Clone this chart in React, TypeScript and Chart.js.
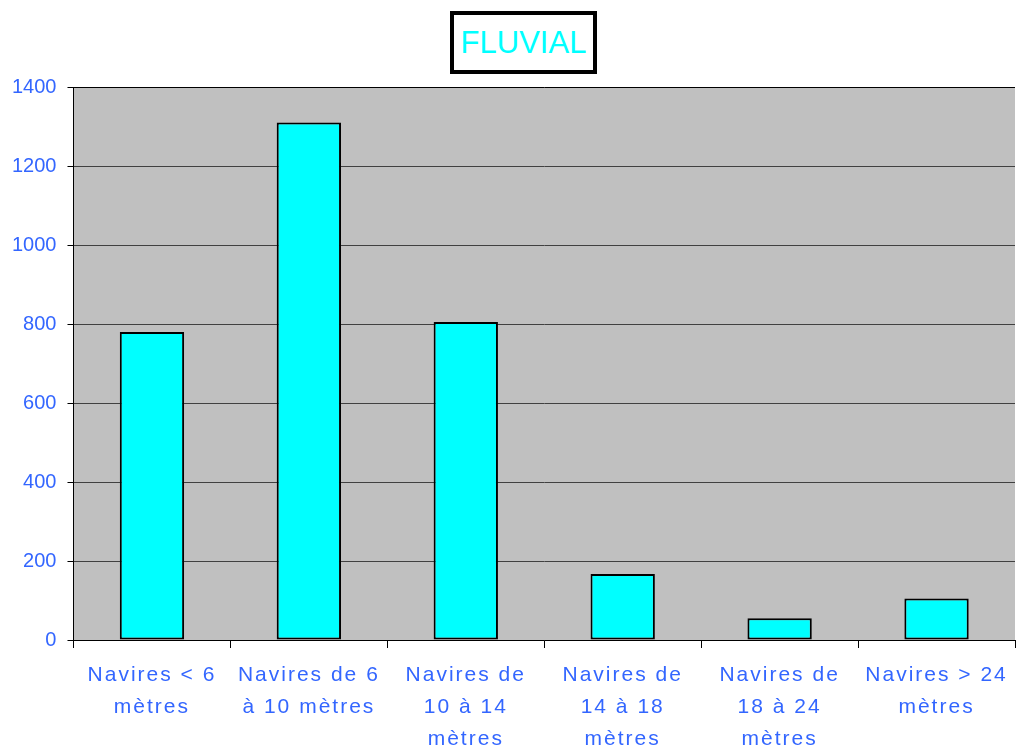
import React, { useEffect, useRef } from 'react';
import { Chart, registerables } from 'chart.js';

Chart.register(...registerables);

const chartTitle = 'FLUVIAL';
const categories: string[][] = [
  ['Navires < 6', 'mètres'],
  ['Navires de 6', 'à 10 mètres'],
  ['Navires de', '10 à 14', 'mètres'],
  ['Navires de', '14 à 18', 'mètres'],
  ['Navires de', '18 à 24', 'mètres'],
  ['Navires > 24', 'mètres'],
];
const values: number[] = [780, 1310, 805, 167, 55, 105];
const yMin = 0;
const yMax = 1400;
const yStep = 200;

const FONT = '"Liberation Sans", Arial, sans-serif';
const BLUE = '#3366FF';
const CYAN = '#00FFFF';

const plotBg = {
  id: 'plotBg',
  beforeDraw(chart: any) {
    const { ctx, chartArea } = chart;
    ctx.save();
    ctx.fillStyle = '#C0C0C0';
    ctx.fillRect(chartArea.left, chartArea.top, chartArea.right - chartArea.left, chartArea.bottom - chartArea.top);
    ctx.restore();
  },
};

const xLetterSpacing = {
  id: 'xLetterSpacing',
  afterLayout(chart: any) {
    const s: any = chart.scales.x;
    if (s && !s.__ls) {
      const orig = s.drawLabels;
      s.drawLabels = function (area: any) {
        const ctx = this.ctx;
        ctx.save();
        ctx.letterSpacing = '2px';
        orig.call(this, area);
        ctx.restore();
      };
      s.__ls = true;
    }
  },
};

export default function App() {
  const ref = useRef<HTMLCanvasElement | null>(null);

  useEffect(() => {
    if (!ref.current) return;
    const chart = new Chart(ref.current, {
      type: 'bar',
      data: {
        labels: categories,
        datasets: [
          {
            data: values,
            backgroundColor: CYAN,
            borderColor: '#000000',
            borderWidth: 2,
            borderSkipped: false,
            barPercentage: 0.41,
            categoryPercentage: 1,
          },
        ],
      },
      options: {
        responsive: false,
        animation: false,
        layout: { padding: { left: 1, right: 2, top: 87, bottom: 6 } },
        plugins: {
          legend: { display: false },
          tooltip: { enabled: false },
          title: { display: false },
        },
        scales: {
          x: {
            offset: true,
            grid: {
              offset: true,
              drawOnChartArea: false,
              drawTicks: true,
              tickLength: 8,
              tickColor: '#000000',
              color: '#000000',
            },
            border: { color: '#000000', width: 1 },
            ticks: {
              color: BLUE,
              padding: 11,
              maxRotation: 0,
              autoSkip: false,
              font: { family: FONT, size: 21, lineHeight: '32px' } as any,
            },
          },
          y: {
            min: yMin,
            max: yMax,
            grid: {
              color: (c: any) => (c.tick && c.tick.value === yMax ? '#000000' : '#404040'),
              lineWidth: 1,
              drawTicks: true,
              tickLength: 6,
              tickColor: '#000000',
            },
            border: { color: '#000000', width: 1 },
            ticks: {
              stepSize: yStep,
              color: BLUE,
              padding: 11,
              font: { family: FONT, size: 20 },
              callback: (v: any) => String(v),
            },
          },
        },
      },
      plugins: [plotBg, xLetterSpacing],
    });
    return () => chart.destroy();
  }, []);

  return (
    <div style={{ position: 'fixed', left: 0, top: 0, width: 1017, height: 750, overflow: 'hidden', background: '#fff' }}>
      <canvas ref={ref} width={1017} height={772} style={{ display: 'block' }} />
      <div
        style={{
          position: 'absolute',
          left: 450,
          top: 11,
          width: 147,
          height: 63,
          boxSizing: 'border-box',
          border: '4px solid #000',
          background: '#fff',
          color: CYAN,
          fontFamily: FONT,
          fontSize: 31,
          lineHeight: '55px',
          textAlign: 'center',
        }}
      >
        {chartTitle}
      </div>
    </div>
  );
}
